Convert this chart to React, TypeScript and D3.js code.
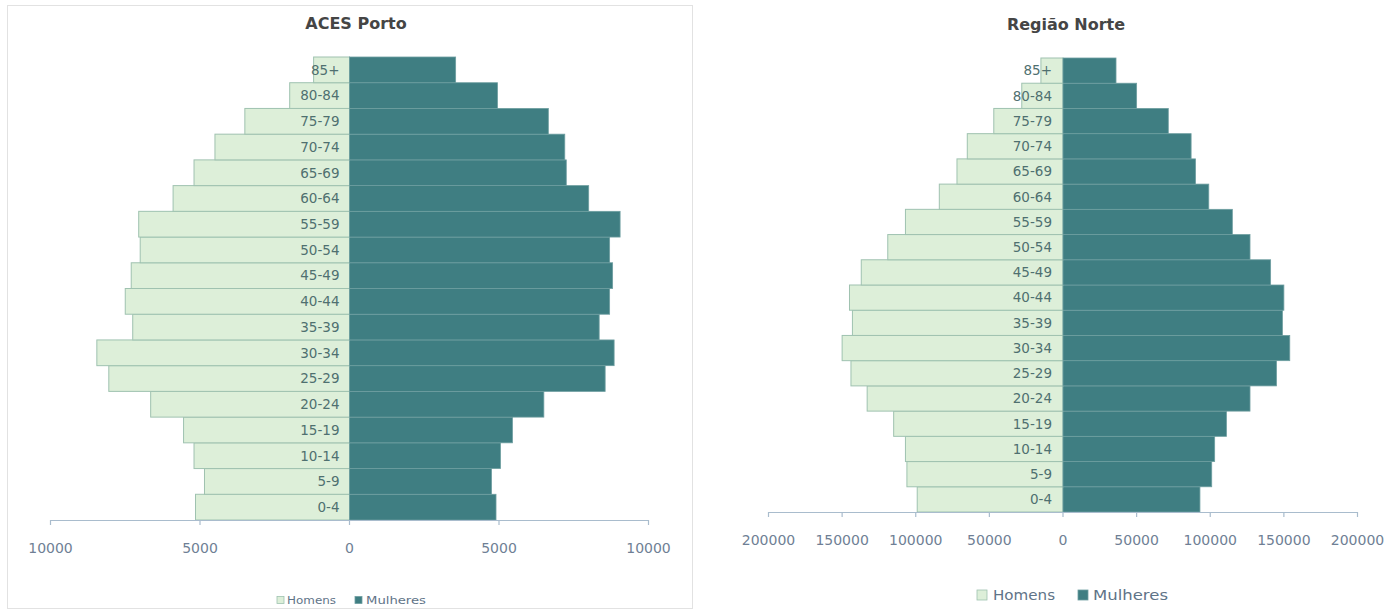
import React from "react";
import * as d3 from "d3";

const ageGroups = ["0-4", "5-9", "10-14", "15-19", "20-24", "25-29", "30-34", "35-39", "40-44", "45-49", "50-54", "55-59", "60-64", "65-69", "70-74", "75-79", "80-84", "85+"];

const portoHomens = [5150, 4850, 5200, 5550, 6650, 8050, 8450, 7250, 7500, 7300, 7000, 7050, 5900, 5200, 4500, 3500, 2000, 1200];
const portoMulheres = [4900, 4750, 5050, 5450, 6500, 8550, 8850, 8350, 8700, 8800, 8700, 9050, 8000, 7250, 7200, 6650, 4950, 3550];

const norteHomens = [99000, 106000, 107000, 115000, 133000, 144000, 150000, 143000, 145000, 137000, 119000, 107000, 84000, 72000, 65000, 47000, 28000, 15000];
const norteMulheres = [93000, 101000, 103000, 111000, 127000, 145000, 154000, 149000, 150000, 141000, 127000, 115000, 99000, 90000, 87000, 71500, 50000, 36000];

const portoTicks = [-10000, -5000, 0, 5000, 10000];
const norteTicks = [-200000, -150000, -100000, -50000, 0, 50000, 100000, 150000, 200000];

const legendLabels = ["Homens", "Mulheres"];

const LIGHT = "#ddefd9";
const LIGHT_STROKE = "#9fc2b0";
const DARK = "#3f7e82";
const DARK_STROKE = "#6e9ea0";

type Cfg = {
  title: string;
  homens: number[];
  mulheres: number[];
  ticks: number[];
  max: number;
  zero: number;
  half: number;
  top: number;
  bottom: number;
  titleX: number;
  titleY: number;
  tickLabelY: number;
  labelGap: number;
  legendY: number;
  legendSq: number;
  legendFont: number;
  legendItems: { sqX: number; textX: number; textLen: number }[];
};

function Pyramid({ cfg }: { cfg: Cfg }) {
  const x = d3.scaleLinear().domain([-cfg.max, cfg.max]).range([cfg.zero - cfg.half, cfg.zero + cfg.half]);
  const y = d3.scaleBand<string>().domain([...ageGroups].reverse()).range([cfg.top, cfg.bottom]).padding(0);
  const fmt = (v: number) => String(Math.abs(v));
  return (
    <g>
      <text x={cfg.titleX} y={cfg.titleY} textAnchor="middle" fontFamily="DejaVu Sans" fontWeight="bold" fontSize={16} fill="#454545">
        {cfg.title}
      </text>
      {ageGroups.map((g, i) => (
        <g key={g}>
          <rect x={x(-cfg.homens[i])} y={y(g)} width={x(0) - x(-cfg.homens[i])} height={y.bandwidth()} fill={LIGHT} stroke={LIGHT_STROKE} strokeWidth={1} />
          <rect x={x(0)} y={y(g)} width={x(cfg.mulheres[i]) - x(0)} height={y.bandwidth()} fill={DARK} stroke={DARK_STROKE} strokeWidth={0.8} />
        </g>
      ))}
      {ageGroups.map((g) => (
        <text key={"l" + g} x={x(0) - cfg.labelGap} y={(y(g) as number) + y.bandwidth() / 2} dy="0.36em" textAnchor="end" fontFamily="DejaVu Sans" fontSize={13.5} fill="#4f7070">
          {g}
        </text>
      ))}
      <line x1={x(-cfg.max)} x2={x(cfg.max)} y1={cfg.bottom + 0.5} y2={cfg.bottom + 0.5} stroke="#a9bccd" strokeWidth={1.2} />
      {cfg.ticks.map((t) => (
        <g key={"t" + t}>
          <line x1={x(t)} x2={x(t)} y1={cfg.bottom} y2={cfg.bottom + 5} stroke="#a9bccd" strokeWidth={1.2} />
          <text x={x(t)} y={cfg.tickLabelY} textAnchor="middle" fontFamily="DejaVu Sans" fontSize={14} fill="#6f7f95">
            {fmt(t)}
          </text>
        </g>
      ))}
      {legendLabels.map((lab, i) => {
        const it = cfg.legendItems[i];
        return (
          <g key={lab}>
            <rect x={it.sqX} y={cfg.legendY - cfg.legendSq / 2} width={cfg.legendSq} height={cfg.legendSq} fill={i === 0 ? LIGHT : DARK} stroke={i === 0 ? LIGHT_STROKE : DARK_STROKE} strokeWidth={0.8} />
            <text x={it.textX} y={cfg.legendY} dy="0.36em" fontFamily="DejaVu Sans" fontSize={cfg.legendFont} fill="#5f7488" textLength={it.textLen} lengthAdjust="spacingAndGlyphs">
              {lab}
            </text>
          </g>
        );
      })}
    </g>
  );
}

const portoCfg: Cfg = {
  title: "ACES Porto",
  homens: portoHomens,
  mulheres: portoMulheres,
  ticks: portoTicks,
  max: 10000,
  zero: 349.5,
  half: 299,
  top: 57,
  bottom: 520,
  titleX: 356,
  titleY: 29,
  tickLabelY: 553,
  labelGap: 10,
  legendY: 600,
  legendSq: 7,
  legendFont: 10,
  legendItems: [
    { sqX: 277, textX: 287, textLen: 49 },
    { sqX: 355, textX: 366, textLen: 60 },
  ],
};

const norteCfg: Cfg = {
  title: "Região Norte",
  homens: norteHomens,
  mulheres: norteMulheres,
  ticks: norteTicks,
  max: 200000,
  zero: 1063,
  half: 294.5,
  top: 58,
  bottom: 512,
  titleX: 1066,
  titleY: 30,
  tickLabelY: 545,
  labelGap: 11,
  legendY: 595,
  legendSq: 10,
  legendFont: 14,
  legendItems: [
    { sqX: 977, textX: 993, textLen: 62 },
    { sqX: 1078, textX: 1093, textLen: 75 },
  ],
};

export default function App() {
  return (
    <svg width={1396} height={613} style={{ position: "absolute", left: 0, top: 0, background: "#fff" }}>
      <rect x={0} y={0} width={1396} height={613} fill="#ffffff" />
      <rect x={7.5} y={5.5} width={685} height={603} fill="none" stroke="#e2e2e2" strokeWidth={1} />
      <Pyramid cfg={portoCfg} />
      <Pyramid cfg={norteCfg} />
    </svg>
  );
}
